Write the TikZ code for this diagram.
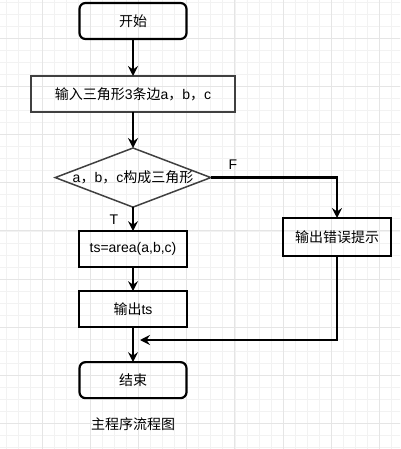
\documentclass[tikz,border=0pt]{standalone}
\usepackage{fontspec}
\setmainfont{Liberation Sans}
\newfontfamily\cjk{Noto Sans CJK SC}
\usepackage{tikz}
\usetikzlibrary{arrows.meta, positioning, shapes.geometric}

\begin{document}
\begin{tikzpicture}[->,>={Stealth[length=10pt,width=10pt,inset=3.5pt]},line width=2.2pt,
    font=\fontsize{14}{16}\selectfont, every node/.style={outer sep=0pt}]
                \tikzset{gridminor/.style={draw=black!5, line width=0.6pt, -},
                         gridmajor/.style={draw=black!10, line width=0.8pt, -},
                         terminal/.style={draw=black, rounded corners=6pt, minimum width=107pt, minimum height=36pt, inner sep=0pt},
                         process/.style={draw=black, minimum width=108pt, minimum height=36pt, inner sep=0pt},
                         inputbox/.style={draw=black!75, line width=1.5pt, minimum width=204pt, minimum height=36pt, inner sep=0pt},
                         decision/.style={diamond, draw=black!75, line width=1.5pt, aspect=2.63, minimum width=155pt, minimum height=59pt, inner sep=0pt}}
                \useasboundingbox (0,0) rectangle (400pt,-449pt);
                % background grid
                \begin{scope}
                \clip (0,0) rectangle (400pt,-449pt);
                \draw[gridminor, shift={(5.85pt,-1.85pt)}] (-20pt,20pt) grid[step=12.05pt] (420pt,-470pt);
                \draw[gridmajor, shift={(42pt,-38pt)}] (-60pt,60pt) grid[step=48.2pt] (420pt,-470pt);
                \end{scope}
                \node[terminal] (start) at (133pt,-21pt) {\cjk 开始};
                \node[inputbox] (input) [below=37pt of start] {{\cjk 输入三角形}3{\cjk 条边}a{\cjk ，}b{\cjk ，}c};
                \node[decision] (check) [below=36pt of input] {a{\cjk ，}b{\cjk ，}c{\cjk 构成三角形}};
                \node[process] (area) [below=24pt of check] {ts=area(a,b,c)};
                \node[process] (output) [below=24pt of area] {{\cjk 输出}ts};
                \node[terminal] (stop) [below=35pt of output] {\cjk 结束};
                \node[process, minimum height=38pt] (error) at (337pt,-237pt) {\cjk 输出错误提示};
                \node[-] (caption) [below=16pt of stop] {\cjk 主程序流程图};
                \node[-] (flabel) at (233pt,-165pt) {F};
                \node[-] (tlabel) at (114pt,-220pt) {T};
                \coordinate (join) at (140pt,-340pt);
                \path (start) edge              node {} (input);
                \path (input) edge              node {} (check);
                \path (check) edge              node {} (area);
                \path (area) edge              node {} (output);
                \path (output) edge              node {} (stop);
                \draw (check.east) -| (error.north);
                \draw (error.south) |- (join);
            \end{tikzpicture}
\end{document}
